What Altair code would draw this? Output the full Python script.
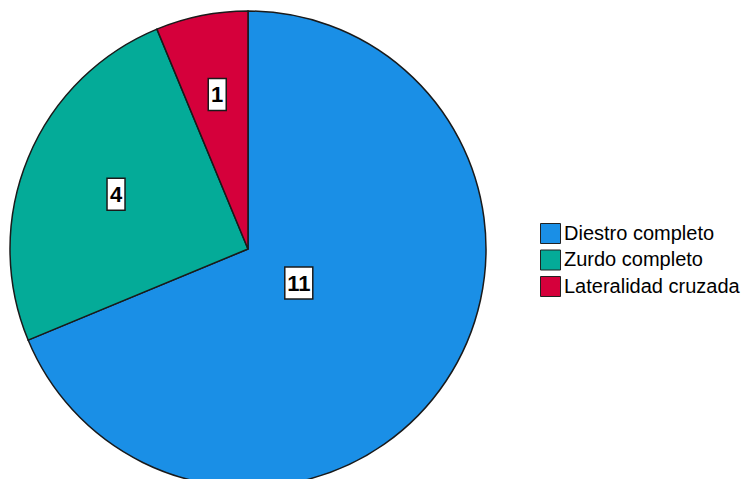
import altair as alt
import pandas as pd

categories = ["Diestro completo", "Zurdo completo", "Lateralidad cruzada"]
counts = [11, 4, 1]
colors = ["#1a8fe6", "#04ab98", "#d5003b"]

df = pd.DataFrame({"cat": categories, "n": counts, "idx": list(range(len(categories)))})

CX, CY, R = 240, 241, 238
FONT = "Liberation Sans"

base = alt.Chart(df)

pie = base.mark_arc(outerRadius=R, stroke="#1a1a1a", strokeWidth=1.5).encode(
    theta=alt.Theta("n:Q", stack=True),
    order=alt.Order("idx:Q"),
    color=alt.Color(
        "cat:N",
        scale=alt.Scale(domain=categories, range=colors),
        sort=categories,
        legend=alt.Legend(
            orient="none", legendX=532, legendY=215, title=None,
            symbolType="square", symbolSize=400, symbolStrokeColor="#222",
            symbolStrokeWidth=1, symbolOpacity=1,
            labelFont=FONT, labelFontSize=20, labelColor="black",
            labelLimit=400, rowPadding=1.5, labelOffset=3, padding=0,
        ),
    ),
    x=alt.value(CX),
    y=alt.value(CY),
)

lab = (
    base.transform_joinaggregate(total="sum(n)")
    .transform_window(cum="sum(n)", sort=[alt.SortField("idx")], frame=[None, 0])
    .transform_calculate(a0="2*PI*(datum.cum-datum.n)/datum.total")
    .transform_calculate(a1="2*PI*datum.cum/datum.total")
    .transform_calculate(mid="(datum.a0+datum.a1)/2")
    .transform_calculate(half="(datum.a1-datum.a0)/2")
    .transform_calculate(rc=f"2*{R}*sin(datum.half)/(3*datum.half)")
    .transform_calculate(px=f"{CX}+datum.rc*sin(datum.mid)")
    .transform_calculate(py=f"{CY}-datum.rc*cos(datum.mid)")
    .transform_calculate(lbl="toString(datum.n)")
    .transform_calculate(w="8+10*length(datum.lbl)")
    .transform_calculate(bx1="datum.px-datum.w/2")
    .transform_calculate(bx2="datum.px+datum.w/2")
    .transform_calculate(by1="datum.py-16")
    .transform_calculate(by2="datum.py+16")
)

boxes = lab.mark_rect(fill="white", stroke="#1a1a1a", strokeWidth=1.5).encode(
    x=alt.X("bx1:Q", scale=None), x2="bx2:Q",
    y=alt.Y("by1:Q", scale=None), y2="by2:Q",
)

texts = lab.mark_text(
    font="Liberation Sans Narrow, Liberation Sans", fontSize=22, fontWeight="bold",
    align="center", baseline="middle", dy=1, color="black",
).encode(
    x=alt.X("px:Q", scale=None),
    y=alt.Y("py:Q", scale=None),
    text="lbl:N",
)

chart = (
    alt.layer(pie, boxes, texts)
    .properties(width=734, height=471, padding=0, autosize=alt.AutoSizeParams(type="none"))
    .configure_view(stroke=None)
)

chart.save("out.html", embed_options={"renderer": "svg", "actions": False})
